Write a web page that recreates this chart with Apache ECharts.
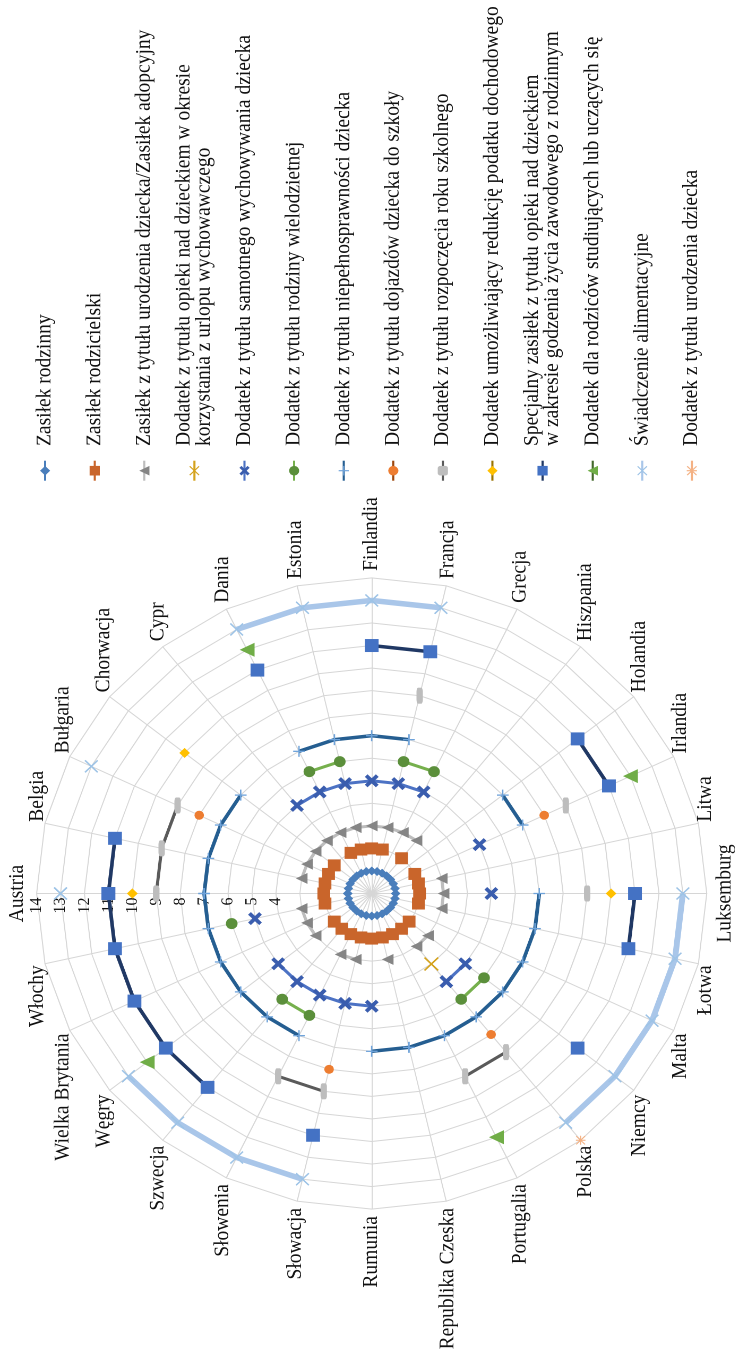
<!DOCTYPE html>
<html>
<head>
<meta charset="utf-8">
<script src="https://cdn.jsdelivr.net/npm/echarts@6/dist/echarts.min.js"></script>
<style>
  html, body { margin: 0; padding: 0; background: #fff; overflow: hidden; width: 735px; height: 1353px; }
  /* The chart is laid out landscape and turned a quarter turn counter-clockwise. */
  #chart {
    position: absolute; left: 0; top: 0;
    width: 1353px; height: 692.2px;
    transform-origin: 0 0;
    transform: translate(0, 1353px) rotate(-90deg) scale(1, 1.0618);
  }
</style>
</head>
<body>
<div id="chart"></div>
<script>
const _ = null;

// Countries, clockwise from the top axis
const countries = ['Austria', 'Belgia', 'Bułgaria', 'Chorwacja', 'Cypr', 'Dania', 'Estonia',
  'Finlandia', 'Francja', 'Grecja', 'Hiszpania', 'Holandia', 'Irlandia', 'Litwa', 'Luksemburg',
  'Łotwa', 'Malta', 'Niemcy', 'Polska', 'Portugalia', 'Republika Czeska', 'Rumunia', 'Słowacja',
  'Słowenia', 'Szwecja', 'Węgry', 'Wielka Brytania', 'Włochy'];

const axisTicks = [0, 1, 2, 3, 4, 5, 6, 7, 8, 9, 10, 11, 12, 13, 14];

// One ring per benefit; empty where a country has no such benefit
const zasilekRodzinny      = [1, 1, 1, 1, 1, 1, 1, 1, 1, 1, 1, 1, 1, 1, 1, 1, 1, 1, 1, 1, 1, 1, 1, 1, 1, 1, 1, 1];
const zasilekRodzicielski  = [2, 2, 2, 2, _, 2, 2, 2, 2, _, 2, _, 2, 2, 2, 2, _, 2, 2, 2, 2, 2, 2, 2, 2, 2, _, 2];
const zasilekUrodzenie     = [_, 3, 3, 3, 3, 3, 3, 3, 3, 3, 3, _, _, 3, 3, 3, _, 3, 3, _, 3, _, 3, 3, _, 3, 3, 3];
const dodatekUrlop         = [_, _, _, _, _, _, _, _, _, _, _, _, _, _, _, _, _, _, 4, _, _, _, _, _, _, _, _, _];
const dodatekSamotny       = [_, _, _, _, 5, 5, 5, 5, 5, 5, _, _, 5, _, 5, _, _, 5, 5, _, _, 5, 5, 5, 5, 5, _, 5];
const dodatekWielodzietna  = [_, _, _, _, _, 6, 6, _, 6, 6, _, _, _, _, _, _, _, 6, 6, _, _, _, _, 6, 6, _, _, 6];
const dodatekNiepelnospr   = [7, 7, 7, 7, _, 7, 7, 7, 7, _, _, 7, 7, _, 7, 7, 7, 7, 7, 7, 7, 7, _, 7, 7, 7, 7, 7];
const dodatekDojazdy       = [_, _, 8, _, _, _, _, _, _, _, _, _, 8, _, _, _, _, _, 8, _, _, _, 8, _, _, _, _, _];
const dodatekRokSzkolny    = [9, 9, 9, _, _, _, _, _, 9, _, _, _, 9, _, 9, _, _, _, 9, 9, _, _, 9, 9, _, _, _, _];
const dodatekPodatek       = [10, _, _, 10, _, _, _, _, _, _, _, _, _, _, 10, _, _, _, _, _, _, _, _, _, _, _, _, _];
const zasilekSpecjalny     = [11, 11, _, _, _, 11, _, 11, 11, _, _, 11, 11, _, 11, 11, _, 11, _, _, _, _, 11, _, 11, 11, 11, 11];
const dodatekStudiujacy    = [_, _, _, _, _, 12, _, _, _, _, _, _, 12, _, _, _, _, _, _, 12, _, _, _, _, _, 12, _, _];
const swiadczenieAlim      = [13, _, 13, _, _, 13, 13, 13, 13, _, _, _, _, _, 13, 13, 13, 13, 13, _, _, _, 13, 13, 13, 13, _, _];
const dodatekUrodzenie     = [_, _, _, _, _, _, _, _, _, _, _, _, _, _, _, _, _, _, 14, _, _, _, _, _, _, _, _, _];

// Marker shapes
const boldX = 'path://M2,0L5,3L8,0L10,2L7,5L10,8L8,10L5,7L2,10L0,8L3,5L0,2Z';
const thinX = 'path://M0.8,0L5,4.2L9.2,0L10,0.8L5.8,5L10,9.2L9.2,10L5,5.8L0.8,10L0,9.2L4.2,5L0,0.8Z';
const plus = 'path://M4.4,0H5.6V4.4H10V5.6H5.6V10H4.4V5.6H0V4.4H4.4Z';
const asterisk = 'path://M0.8,0L5,4.2L9.2,0L10,0.8L5.8,5L10,9.2L9.2,10L5,5.8L0.8,10L0,9.2L4.2,5L0,0.8Z M4.4,0H5.6V10H4.4Z M0,4.4H10V5.6H0Z';

const benefits = [
  { name: 'Zasiłek rodzinny', values: zasilekRodzinny, symbol: 'diamond', size: 9, color: '#4A7EBB', line: '#4A7EBB', width: 2 },
  { name: 'Zasiłek rodzicielski', values: zasilekRodzicielski, symbol: 'rect', size: 12, color: '#C9652B', line: '#C9652B', width: 2 },
  { name: 'Zasiłek z tytułu urodzenia dziecka/Zasiłek adopcyjny', values: zasilekUrodzenie, symbol: 'triangle', size: 11, color: '#858585', line: '#BDBDBD', width: 3 },
  { name: 'Dodatek z tytułu opieki nad dzieckiem w okresie\nkorzystania z urlopu wychowawczego', values: dodatekUrlop, symbol: thinX, size: 14, color: '#D4A21C', line: '#D4A21C', width: 2 },
  { name: 'Dodatek z tytułu samotnego wychowywania dziecka', values: dodatekSamotny, symbol: boldX, size: 13, color: '#3A5DAE', line: '#4C72C4', width: 3 },
  { name: 'Dodatek z tytułu rodziny wielodzietnej', values: dodatekWielodzietna, symbol: 'circle', size: 11, color: '#5B8F3B', line: '#76B04D', width: 3 },
  { name: 'Dodatek z tytułu niepełnosprawności dziecka', values: dodatekNiepelnospr, symbol: plus, size: 11, color: '#6FA3DA', line: '#255E91', width: 3.5 },
  { name: 'Dodatek z tytułu dojazdów dziecka do szkoły', values: dodatekDojazdy, symbol: 'circle', size: 9, color: '#ED7D31', line: '#9E480E', width: 2 },
  { name: 'Dodatek z tytułu rozpoczęcia roku szkolnego', values: dodatekRokSzkolny, symbol: 'roundRect', size: [16, 6], color: '#BDBDBD', line: '#5A5A5A', width: 3 },
  { name: 'Dodatek umożliwiający redukcję podatku dochodowego', values: dodatekPodatek, symbol: 'diamond', size: 10, color: '#FFC000', line: '#997300', width: 2 },
  { name: 'Specjalny zasiłek z tytułu opieki nad dzieckiem\nw zakresie godzenia życia zawodowego z rodzinnym', values: zasilekSpecjalny, symbol: 'rect', size: 13, color: '#4472C4', line: '#203864', width: 3.5 },
  { name: 'Dodatek dla rodziców studiujących lub uczących się', values: dodatekStudiujacy, symbol: 'triangle', size: 14, color: '#70AD47', line: '#43682B', width: 2 },
  { name: 'Świadczenie alimentacyjne', values: swiadczenieAlim, symbol: thinX, size: 13, color: '#9DC3E6', line: '#A9C6E9', width: 5.5 },
  { name: 'Dodatek z tytułu urodzenia dziecka', values: dodatekUrodzenie, symbol: asterisk, size: 9, color: '#F4B183', line: '#F4B183', width: 2 }
];

const FONT = "'Liberation Serif', 'Times New Roman', serif";
const TEXT = '#111';
const GRID = '#D6D6D6';
const S = 1.0618;
const CX = 459.5, CY = 371.7 / S, R = 315.6;
const maxV = axisTicks[axisTicks.length - 1];

// Radar indicators run counter-clockwise, so list them in reverse after the first
const radarOrder = [countries[0]].concat(countries.slice(1).reverse());

const chart = echarts.init(document.getElementById('chart'), null, { renderer: 'canvas', devicePixelRatio: 2 });

chart.setOption({
  animation: false,
  backgroundColor: '#fff',
  radar: {
    center: [CX, CY],
    radius: R,
    startAngle: 90,
    shape: 'polygon',
    splitNumber: axisTicks.length - 1,
    nameGap: 7,
    axisName: { color: TEXT, fontSize: 19.5, fontFamily: FONT },
    indicator: radarOrder.map((name, k) => {
      const ind = { name: name, min: axisTicks[0], max: maxV };
      if (k === 0) {
        ind.axisLabel = {
          show: true, fontSize: 16, fontFamily: FONT, color: TEXT, margin: 4,
          formatter: v => (v >= 4 ? String(v) : '')
        };
      }
      return ind;
    }),
    axisLine: { lineStyle: { color: GRID, width: 1 } },
    splitLine: { lineStyle: { color: GRID, width: 1 } },
    splitArea: { show: false },
    axisTick: { show: false }
  },
  polar: { center: [CX, CY], radius: [0, R] },
  angleAxis: { type: 'value', min: 0, max: countries.length, startAngle: 90, clockwise: true, show: false },
  radiusAxis: { type: 'value', min: axisTicks[0], max: maxV, show: false },
  legend: {
    orient: 'vertical',
    left: 871.3,
    top: 23.5,
    padding: 0,
    itemGap: 8.7,
    itemWidth: 20,
    itemHeight: 12,
    selectedMode: false,
    textStyle: { fontFamily: FONT, fontSize: 19.5, color: TEXT, padding: [0, 0, 0, 9.7] },
    data: benefits.map(b => ({
      name: b.name,
      textStyle: { lineHeight: b.name.indexOf('\n') >= 0 ? 19 : 38 }
    }))
  },
  series: benefits.map(b => ({
    type: 'line',
    name: b.name,
    coordinateSystem: 'polar',
    polarIndex: 0,
    // one point per country, plus the first again so the ring can close
    data: countries.map((c, i) => [b.values[i], i]).concat([[b.values[0], countries.length]]),
    symbol: b.symbol,
    symbolSize: b.size,
    showSymbol: true,
    showAllSymbol: true,
    connectNulls: false,
    itemStyle: { color: b.color, opacity: 1 },
    lineStyle: { color: b.line, width: b.width },
    emphasis: { disabled: true },
    silent: true,
    z: 3
  }))
});
</script>
</body>
</html>
